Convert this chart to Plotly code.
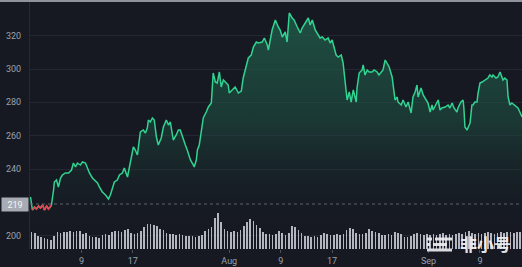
import plotly.graph_objects as go
import pandas as pd

# ---------------- data ----------------
times = [
    "2021-07-01 02:00", "2021-07-01 09:00", "2021-07-01 17:00", "2021-07-02 00:00", "2021-07-02 08:00",
    "2021-07-02 15:00", "2021-07-02 23:00", "2021-07-03 06:00", "2021-07-03 14:00", "2021-07-03 21:00",
    "2021-07-04 04:00", "2021-07-04 08:00", "2021-07-04 16:00", "2021-07-04 19:00", "2021-07-05 03:00",
    "2021-07-05 10:00", "2021-07-05 18:00", "2021-07-06 01:00", "2021-07-06 12:00", "2021-07-07 00:00",
    "2021-07-07 11:00", "2021-07-07 18:00", "2021-07-08 02:00", "2021-07-08 09:00", "2021-07-08 20:00",
    "2021-07-09 04:00", "2021-07-09 15:00", "2021-07-09 22:00", "2021-07-10 06:00", "2021-07-10 17:00",
    "2021-07-11 01:00", "2021-07-11 12:00", "2021-07-11 19:00", "2021-07-12 06:00", "2021-07-12 18:00",
    "2021-07-13 05:00", "2021-07-13 12:00", "2021-07-13 20:00", "2021-07-14 03:00", "2021-07-14 14:00",
    "2021-07-14 22:00", "2021-07-15 09:00", "2021-07-15 16:00", "2021-07-16 04:00", "2021-07-16 11:00",
    "2021-07-16 22:00", "2021-07-17 02:00", "2021-07-17 09:00", "2021-07-17 17:00", "2021-07-18 04:00",
    "2021-07-18 15:00", "2021-07-18 23:00", "2021-07-19 06:00", "2021-07-19 10:00", "2021-07-19 17:00",
    "2021-07-20 01:00", "2021-07-20 08:00", "2021-07-20 16:00", "2021-07-20 23:00", "2021-07-21 10:00",
    "2021-07-21 18:00", "2021-07-22 05:00", "2021-07-22 13:00", "2021-07-22 20:00", "2021-07-23 03:00",
    "2021-07-23 07:00", "2021-07-23 18:00", "2021-07-24 02:00", "2021-07-24 09:00", "2021-07-24 20:00",
    "2021-07-25 04:00", "2021-07-25 11:00", "2021-07-25 23:00", "2021-07-26 10:00", "2021-07-26 13:00",
    "2021-07-26 21:00", "2021-07-27 01:00", "2021-07-27 08:00", "2021-07-27 19:00", "2021-07-27 23:00",
    "2021-07-28 10:00", "2021-07-28 18:00", "2021-07-29 05:00", "2021-07-29 12:00", "2021-07-29 20:00",
    "2021-07-30 03:00", "2021-07-30 11:00", "2021-07-30 18:00", "2021-07-31 02:00", "2021-07-31 09:00",
    "2021-07-31 20:00", "2021-08-01 00:00", "2021-08-01 11:00", "2021-08-01 22:00", "2021-08-02 10:00",
    "2021-08-02 21:00", "2021-08-03 04:00", "2021-08-03 15:00", "2021-08-03 23:00", "2021-08-04 10:00",
    "2021-08-04 18:00", "2021-08-05 05:00", "2021-08-05 12:00", "2021-08-06 03:00", "2021-08-06 11:00",
    "2021-08-06 22:00", "2021-08-07 02:00", "2021-08-07 16:00", "2021-08-08 04:00", "2021-08-08 15:00",
    "2021-08-08 22:00", "2021-08-09 06:00", "2021-08-09 17:00", "2021-08-10 00:00", "2021-08-10 08:00",
    "2021-08-10 19:00", "2021-08-11 02:00", "2021-08-11 14:00", "2021-08-12 01:00", "2021-08-12 08:00",
    "2021-08-12 19:00", "2021-08-13 07:00", "2021-08-13 14:00", "2021-08-13 22:00", "2021-08-14 09:00",
    "2021-08-14 20:00", "2021-08-15 03:00", "2021-08-15 11:00", "2021-08-15 22:00", "2021-08-16 09:00",
    "2021-08-16 17:00", "2021-08-17 00:00", "2021-08-17 08:00", "2021-08-17 15:00", "2021-08-17 23:00",
    "2021-08-18 10:00", "2021-08-18 17:00", "2021-08-18 21:00", "2021-08-19 04:00", "2021-08-19 08:00",
    "2021-08-19 16:00", "2021-08-19 23:00", "2021-08-20 07:00", "2021-08-20 10:00", "2021-08-20 18:00",
    "2021-08-20 21:00", "2021-08-21 05:00", "2021-08-21 16:00", "2021-08-21 20:00", "2021-08-22 03:00",
    "2021-08-22 11:00", "2021-08-22 18:00", "2021-08-23 05:00", "2021-08-23 13:00", "2021-08-24 00:00",
    "2021-08-24 07:00", "2021-08-24 15:00", "2021-08-24 22:00", "2021-08-25 06:00", "2021-08-25 13:00",
    "2021-08-25 21:00", "2021-08-26 08:00", "2021-08-26 12:00", "2021-08-26 19:00", "2021-08-27 03:00",
    "2021-08-27 06:00", "2021-08-27 18:00", "2021-08-28 01:00", "2021-08-28 12:00", "2021-08-28 20:00",
    "2021-08-29 07:00", "2021-08-29 14:00", "2021-08-29 22:00", "2021-08-30 05:00", "2021-08-30 09:00",
    "2021-08-30 20:00", "2021-08-31 04:00", "2021-08-31 11:00", "2021-08-31 22:00", "2021-09-01 06:00",
    "2021-09-01 13:00", "2021-09-01 17:00", "2021-09-02 04:00", "2021-09-02 12:00", "2021-09-02 19:00",
    "2021-09-03 02:00", "2021-09-03 14:00", "2021-09-04 01:00", "2021-09-04 08:00", "2021-09-04 16:00",
    "2021-09-04 23:00", "2021-09-05 10:00", "2021-09-05 14:00", "2021-09-06 01:00", "2021-09-06 09:00",
    "2021-09-06 12:00", "2021-09-06 16:00", "2021-09-07 00:00", "2021-09-07 03:00", "2021-09-07 11:00",
    "2021-09-07 18:00", "2021-09-07 22:00", "2021-09-08 05:00", "2021-09-08 13:00", "2021-09-08 17:00",
    "2021-09-09 00:00", "2021-09-09 08:00", "2021-09-09 19:00", "2021-09-10 06:00", "2021-09-10 13:00",
    "2021-09-10 21:00", "2021-09-11 01:00", "2021-09-11 12:00", "2021-09-11 19:00", "2021-09-12 03:00",
    "2021-09-12 10:00", "2021-09-12 14:00", "2021-09-12 21:00", "2021-09-13 05:00", "2021-09-13 09:00",
    "2021-09-13 16:00", "2021-09-13 23:00", "2021-09-14 07:00", "2021-09-14 18:00", "2021-09-14 22:00",
    "2021-09-15 05:00", "2021-09-15 13:00",
]
prices = [
    223.2, 215.4, 217.2, 216.0, 217.8, 216.6, 218.4, 215.4, 217.8, 216.0,
    217.2, 218.4, 227.4, 232.2, 233.4, 229.2, 234.6, 236.4, 237.6, 237.6,
    239.4, 243.6, 241.2, 243.6, 242.4, 244.2, 243.6, 240.6, 237.6, 234.6,
    233.4, 231.6, 229.2, 226.2, 224.4, 222.0, 224.4, 228.6, 232.2, 233.4,
    236.4, 237.6, 240.6, 235.2, 241.2, 250.2, 253.2, 251.4, 248.4, 262.2,
    263.4, 261.6, 264.6, 269.4, 268.2, 270.6, 269.4, 259.2, 254.4, 258.6,
    265.2, 269.4, 266.4, 268.2, 262.2, 257.4, 260.4, 263.4, 263.4, 257.4,
    254.4, 251.4, 245.4, 242.4, 241.2, 245.4, 251.4, 254.4, 268.2, 270.6,
    274.2, 277.2, 279.6, 297.6, 292.2, 291.6, 298.2, 289.2, 293.4, 292.2,
    290.4, 285.6, 287.4, 289.2, 285.6, 286.8, 294.6, 302.4, 306.6, 308.4,
    313.2, 316.2, 315.6, 316.2, 318.6, 314.4, 311.4, 323.4, 329.4, 325.2,
    323.4, 319.2, 322.2, 316.2, 333.6, 330.6, 329.4, 325.2, 321.6, 324.6,
    327.6, 330.6, 326.4, 329.4, 323.4, 320.4, 318.6, 319.2, 317.4, 318.6,
    315.6, 317.4, 312.6, 308.4, 307.2, 308.4, 303.6, 297.6, 283.2, 281.4,
    286.2, 280.2, 287.4, 285.6, 280.2, 288.6, 297.6, 299.4, 302.4, 296.4,
    299.4, 298.2, 298.2, 299.4, 298.2, 296.4, 298.2, 299.4, 305.4, 303.6,
    301.2, 295.2, 288.6, 281.4, 283.2, 280.2, 278.4, 281.4, 277.2, 280.2,
    273.6, 283.2, 286.2, 290.4, 283.2, 288.6, 284.4, 282.6, 279.6, 274.2,
    278.4, 275.4, 278.4, 281.4, 275.4, 276.6, 277.2, 278.4, 276.6, 279.6,
    276.6, 274.2, 276.6, 280.2, 281.4, 276.6, 265.2, 263.4, 264.6, 267.6,
    278.4, 278.4, 280.2, 280.2, 285.6, 291.6, 292.2, 293.4, 294.6, 296.4,
    295.2, 296.4, 294.6, 295.2, 298.2, 295.2, 293.4, 294.6, 293.4, 283.2,
    278.4, 279.6, 278.4, 277.2, 276.6, 274.2, 271.2,
]

# 12-hour volume bars, starting 2021-07-01 00:00 (millions)
volume_start = "2021-07-01 00:00"
volumes = [
    170, 160, 130, 120, 110, 100, 90, 130, 170, 160,
    170, 170, 180, 170, 180, 180, 150, 160, 130, 120,
    120, 110, 140, 150, 140, 170, 180, 180, 170, 190,
    200, 160, 150, 160, 180, 220, 250, 250, 240, 230,
    200, 190, 160, 150, 150, 140, 150, 140, 130, 130,
    130, 120, 130, 140, 180, 200, 220, 310, 360, 270,
    200, 180, 170, 180, 170, 190, 230, 270, 300, 280,
    240, 210, 170, 150, 150, 140, 150, 180, 160, 140,
    160, 230, 220, 190, 160, 130, 130, 120, 130, 120,
    140, 160, 150, 140, 140, 150, 140, 150, 190, 210,
    200, 160, 150, 150, 160, 200, 180, 170, 160, 140,
    140, 150, 140, 170, 160, 150, 120, 120, 130, 150,
    160, 150, 140, 150, 140, 150, 140, 150, 160, 140,
    150, 140, 150, 160, 150, 170, 180, 160, 150, 160,
    150, 160, 170, 160, 150, 160, 170, 160, 170, 170,
    160, 170, 170,
]

base_price = 219
y_tick_values = [200, 240, 260, 280, 300, 320]
x_tick_dates = ["2021-07-09", "2021-07-17", "2021-08-01", "2021-08-09",
                "2021-08-17", "2021-09-01", "2021-09-09"]
x_tick_labels = ["9", "17", "Aug", "9", "17", "Sep", "9"]

# ---------------- styling ----------------
BG = "#161922"
GREEN = "#31d391"
RED = "#e8404f"
GRID = "#232732"
TICKFONT = dict(family="Roboto, Arial, sans-serif", size=9, color="#9ca1ab")

t = pd.to_datetime(times)
vol_t = pd.date_range(volume_start, periods=len(volumes), freq="12h")

fig = go.Figure()

fig.add_trace(go.Scatter(
    x=t, y=prices, mode="lines",
    line=dict(color=GREEN, width=1.5),
    fill="tozeroy",
    fillgradient=dict(
        type="vertical",
        start=200, stop=335,
        colorscale=[[0, "rgba(22,25,34,0)"], [0.5, "rgba(30,80,66,0.55)"], [1, "rgba(34,100,78,0.75)"]],
    ),
    hoverinfo="skip", showlegend=False,
))

# segment below the opening price drawn in red
below = [i for i, p in enumerate(prices) if p < base_price and i < 20]
fig.add_trace(go.Scatter(
    x=t[below[0]:below[-1] + 1], y=prices[below[0]:below[-1] + 1], mode="lines",
    line=dict(color=RED, width=1.6), hoverinfo="skip", showlegend=False,
))

fig.add_trace(go.Bar(
    x=vol_t + pd.Timedelta(hours=6), y=volumes, yaxis="y2",
    marker=dict(color="rgba(208,210,218,0.85)", line=dict(width=0)),
    width=12 * 3600 * 1000 * 0.5,
    hoverinfo="skip", showlegend=False,
))

W, H = 522, 267
ML, MB = 30, 18
PW, PH = W - ML, H - MB


def px(xp):
    return (xp - ML) / PW


def py(yp):
    return (PH - yp) / PH


shapes = [
    # opening price dotted line
    dict(type="line", xref="paper", yref="y", x0=0, x1=1, y0=base_price, y1=base_price,
         line=dict(color="#5d626d", width=1, dash="dot"), layer="above"),
    # top border
    dict(type="line", xref="paper", yref="paper", x0=px(0), x1=1, y0=py(1), y1=py(1),
         line=dict(color="#8e939c", width=2)),
]
# watermark logo bars
logo_bars = [
    (427, 432, 237.5, 240.5), (435, 452, 237.5, 240.5),
    (427, 430, 243, 246), (433, 447, 243, 246),
    (427, 452, 248.5, 251.5),
]
for x0, x1, y0, y1 in logo_bars:
    shapes.append(dict(type="rect", xref="paper", yref="paper",
                       x0=px(x0), x1=px(x1), y0=py(y1), y1=py(y0),
                       fillcolor="rgba(235,236,240,0.92)", line=dict(width=0), layer="above"))

annotations = [
    dict(xref="paper", yref="y", x=0, y=base_price, xanchor="right", yanchor="middle",
         text="219", showarrow=False, bgcolor="#a7abb3", width=24, height=11,
         font=dict(family="Roboto, Arial, sans-serif", size=9, color="#f4f5f7"), xshift=-1),
    dict(xref="paper", yref="paper", x=px(485), y=py(243.5), xanchor="center", yanchor="middle",
         text="<b>非小号</b>", showarrow=False, borderpad=0,
         font=dict(family="Noto Sans CJK SC", size=17, color="rgba(240,241,244,0.95)")),
]

fig.update_layout(
    width=W, height=H,
    margin=dict(l=ML, r=0, t=0, b=MB, pad=0),
    paper_bgcolor=BG, plot_bgcolor=BG,
    showlegend=False,
    bargap=0,
    xaxis=dict(
        type="date",
        range=["2021-07-01 00:00", "2021-09-15 13:00"],
        tickvals=x_tick_dates, ticktext=x_tick_labels,
        ticks="outside", ticklen=3, tickcolor="#4b505b",
        tickfont=TICKFONT, showgrid=False, zeroline=False, showline=False,
    ),
    yaxis=dict(
        range=[192, 341.4],
        tickvals=y_tick_values,
        tickfont=TICKFONT, ticks="", ticklabelstandoff=6,
        showgrid=True, gridcolor=GRID, gridwidth=1, zeroline=False,
        showline=True, linecolor="#262a35", linewidth=1,
    ),
    yaxis2=dict(overlaying="y", range=[0, 2490], visible=False, showgrid=False),
    shapes=shapes,
    annotations=annotations,
)

fig.write_html("out.html")
